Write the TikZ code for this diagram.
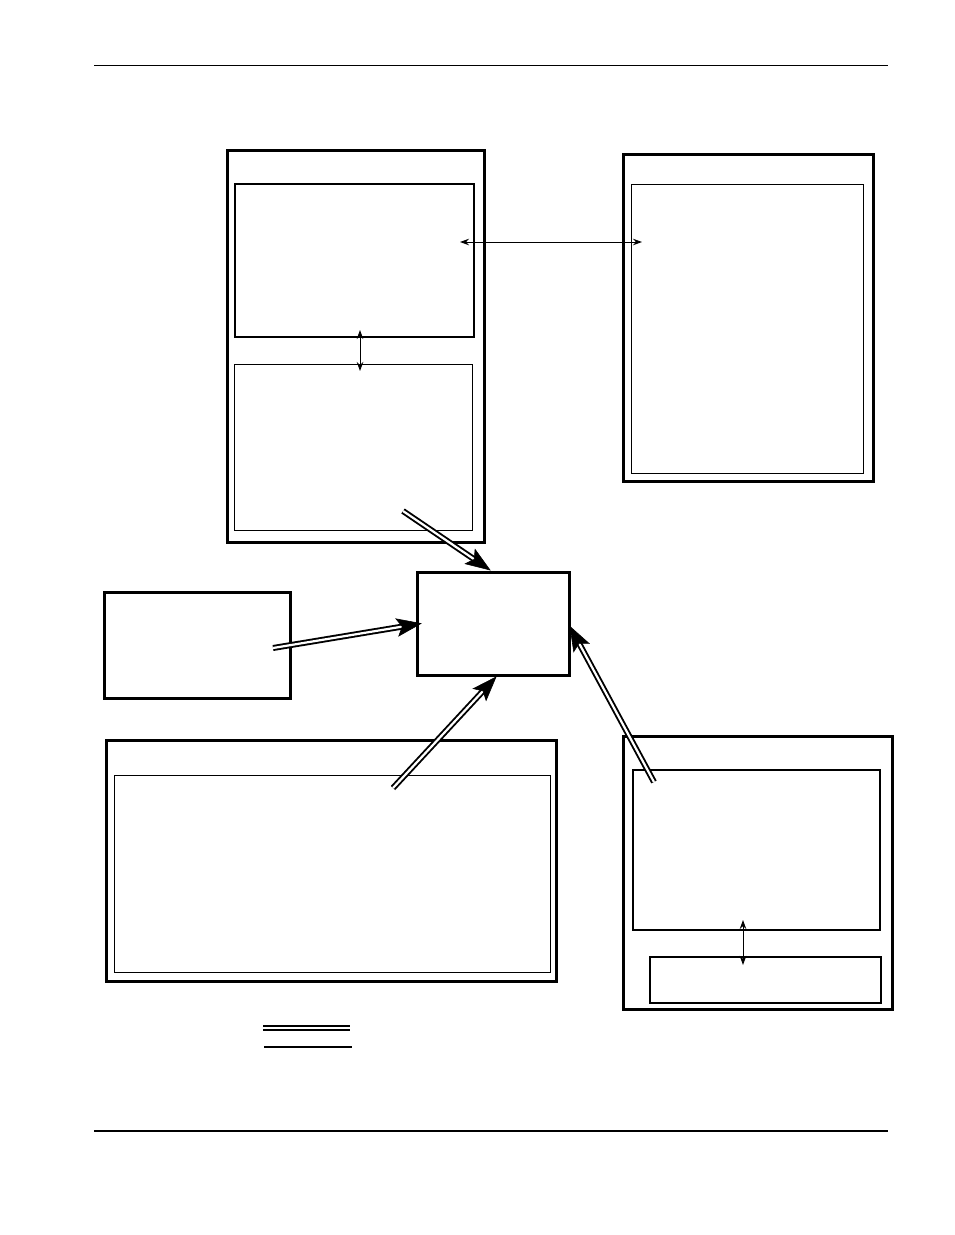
\documentclass[tikz,border=0pt]{standalone}
\usetikzlibrary{arrows.meta,calc}
\begin{document}
\begin{tikzpicture}[x=1pt,y=-1pt,
 outerbox/.style={draw, line width=3pt, inner sep=0pt, outer sep=0pt, anchor=north west},
 innerbox/.style={draw, line width=1.3pt, inner sep=0pt, outer sep=0pt, anchor=north west},
 dbl/.style={line width=1.9pt, double=white, double distance=2.2pt},
 headfill/.style={fill=black, draw=black, line width=0.6pt, line join=miter},
 thinarrow/.style={line width=1pt, {Stealth[length=9pt,width=6.5pt,fill=black]}-{Stealth[length=9pt,width=6.5pt,fill=black]}},
 rule/.style={line width=1pt}]
\useasboundingbox (0,0) rectangle (954,1235);
\fill[white] (0,0) rectangle (954,1235);
% page rules
\draw[rule] (94,65) -- (888,65);
\draw[line width=2pt] (94,1131) -- (888,1131);
% boxes
\node[outerbox, minimum width=257pt, minimum height=392pt] (A) at (227,150) {};
\node[innerbox, line width=1.6pt, minimum width=239pt, minimum height=153pt] (A1) at (235,184) {};
\node[innerbox, line width=1pt, minimum width=238pt, minimum height=166pt] (A2) at (234,364) {};
\node[outerbox, minimum width=250pt, minimum height=327pt] (B) at (623,154) {};
\node[innerbox, line width=1pt, minimum width=232pt, minimum height=289pt] (B1) at (631,184) {};
\node[outerbox, minimum width=152pt, minimum height=103pt] (C) at (417,572) {};
\node[outerbox, minimum width=186pt, minimum height=106pt] (D) at (104,592) {};
\node[outerbox, minimum width=450pt, minimum height=241pt] (E) at (106,740) {};
\node[innerbox, line width=1pt, minimum width=436pt, minimum height=197pt] (E1) at (114,775) {};
\node[outerbox, minimum width=269pt, minimum height=273pt] (F) at (623,736) {};
\node[innerbox, line width=1.6pt, minimum width=247pt, minimum height=160pt] (F1) at (633,770) {};
\node[innerbox, line width=1.6pt, minimum width=231pt, minimum height=46pt] (F2) at (650,957) {};
% thin two-headed arrows
\coordinate (xa) at (360,0);
\coordinate (ya) at (0,242);
\coordinate (xf) at (743,0);
\draw[thinarrow, shorten <=-7pt, shorten >=-7pt] (A1.south -| xa) -- (A2.north -| xa);
\draw[thinarrow, shorten <=-14pt, shorten >=-11pt] (A1.east |- ya) -- (B1.west |- ya);
\draw[thinarrow, shorten <=-10pt, shorten >=-8pt] (F1.south -| xf) -- (F2.north -| xf);
% double-line arrows into C
\coordinate (s1) at (403,511);
\coordinate (e1) at ($(C.north)+(-3,-2)$);
\coordinate (s2) at (273,648);
\coordinate (e2) at ($(C.west)+(4,0)$);
\coordinate (s3) at (393,788);
\coordinate (e3) at ($(C.south)+(3,2)$);
\coordinate (s4) at (654,782);
\coordinate (e4) at ($(C.east)+(1,3)$);
\foreach \s/\e in {s1/e1,s2/e2,s3/e3,s4/e4}{
  \draw[dbl, shorten >=16pt] (\s) -- (\e);
}
\foreach \s/\e in {s1/e1,s2/e2,s3/e3,s4/e4}{
  \filldraw[headfill] (\e) -- ($(\e)!25.5pt!20:(\s)$) -- ($(\e)!19pt!(\s)$) -- ($(\e)!25.5pt!-20:(\s)$) -- cycle;
}
% legend
\draw[line width=1.8pt, double=white, double distance=2pt] (263,1028) -- (350,1028);
\draw[line width=2pt] (264,1047) -- (352,1047);
\end{tikzpicture}
\end{document}
